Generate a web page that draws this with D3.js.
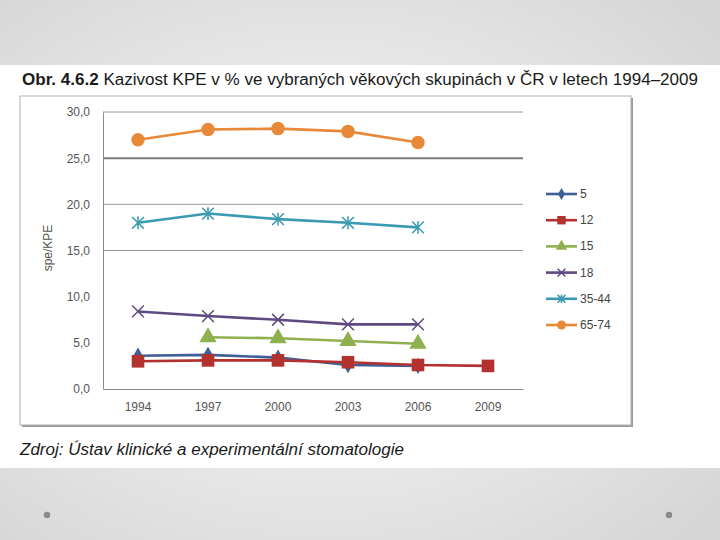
<!DOCTYPE html>
<html><head><meta charset="utf-8">
<script src="https://cdn.jsdelivr.net/npm/d3@7"></script>
<style>body{margin:0;background:#fff}svg{display:block}</style>
</head><body>
<svg id="c" width="720" height="540"></svg>
<script>
const years = ["1994","1997","2000","2003","2006","2009"];
const seriesNames = ["5","12","15","18","35-44","65-74"];
const s5    = [3.6, 3.7, 3.4, 2.6, 2.5, null];
const s12   = [3.0, 3.1, 3.1, 2.9, 2.6, 2.5];
const s15   = [null, 5.6, 5.5, 5.2, 4.9, null];
const s18   = [8.4, 7.9, 7.5, 7.0, 7.0, null];
const s3544 = [18.0, 19.0, 18.4, 18.0, 17.5, null];
const s6574 = [27.0, 28.1, 28.2, 27.9, 26.7, null];
const yTicks = [0,5,10,15,20,25,30];
const gridValues = [15,20,25,30];

const colors = ["#3f5f96","#b3312f","#8fb04e","#5e4a80","#3a9ab2","#e8893a"];
const markers = ["diamond","square","triangle","cross","star","circle"];
const allSeries = [s5,s12,s15,s18,s3544,s6574];
const FONT = "'Liberation Sans Narrow','Arial Narrow','Liberation Sans',Arial,sans-serif";

const svg = d3.select("#c");
const defs = svg.append("defs");
const g1 = defs.append("radialGradient").attr("id","bg").attr("cx","0.45").attr("cy","0.5").attr("r","0.7");
g1.append("stop").attr("offset","0").attr("stop-color","#fbfbfb");
g1.append("stop").attr("offset","1").attr("stop-color","#d6d6d6");

svg.append("rect").attr("x",0).attr("y",0).attr("width",720).attr("height",540).attr("fill","url(#bg)");
svg.append("rect").attr("x",0).attr("y",65).attr("width",720).attr("height",403).attr("fill","#fff");
[[47,515],[669,515]].forEach(p=>svg.append("circle").attr("cx",p[0]).attr("cy",p[1]).attr("r",3.2).attr("fill","#8a8a8a"));

// title
const t = svg.append("text").attr("x",22).attr("y",85)
  .attr("font-family",FONT).attr("font-size",16).attr("fill","#1a1a1a")
  .attr("textLength",676).attr("lengthAdjust","spacingAndGlyphs");
t.append("tspan").attr("font-weight","bold").text("Obr. 4.6.2 ");
t.append("tspan").text(" Kazivost KPE v % ve vybraných věkových skupinách v ČR v letech 1994–2009");

// chart box
svg.append("rect").attr("x",22).attr("y",98).attr("width",611).attr("height",329).attr("fill","#9a9a9a");
svg.append("rect").attr("x",20).attr("y",96).attr("width",611).attr("height",329).attr("fill","#fff").attr("stroke","#b0b0b0").attr("stroke-width",1);

// scales
const x = d3.scaleBand().domain(years).range([103,523]);
const y = d3.scaleLinear().domain([0,30]).range([389,112]);
const cx = d => x(d) + x.bandwidth()/2;

// grid
svg.append("g").selectAll("line").data(gridValues).join("line")
  .attr("x1",103).attr("x2",523).attr("y1",d=>y(d)).attr("y2",d=>y(d))
  .attr("stroke",d=>d===25?"#7a7a7a":"#9a9a9a").attr("stroke-width",d=>d===25?2:1);

// axes
const yAxis = d3.axisLeft(y).tickValues(yTicks).tickSize(0).tickPadding(13)
  .tickFormat(d=>d3.format(".1f")(d).replace(".",","));
const ya = svg.append("g").attr("transform","translate(103,0)").call(yAxis);
ya.select(".domain").attr("stroke","#8a8a8a");
ya.selectAll("text").attr("font-family",FONT).attr("font-size",12).attr("fill","#555");

const xAxis = d3.axisBottom(x).tickSize(0).tickPadding(13);
const xa = svg.append("g").attr("transform","translate(0,389)").call(xAxis);
xa.select(".domain").attr("stroke","#8a8a8a");
xa.selectAll("text").attr("font-family",FONT).attr("font-size",12).attr("fill","#555");

svg.append("text").attr("transform","translate(52,248) rotate(-90)").attr("text-anchor","middle")
  .attr("font-family",FONT).attr("font-size",12).attr("fill","#555").text("spe/KPE");

function drawMarker(g, type, px, py, col, s){
  if(type==="circle") g.append("circle").attr("cx",px).attr("cy",py).attr("r",s*0.75).attr("fill",col);
  else if(type==="square") g.append("rect").attr("x",px-s*0.7).attr("y",py-s*0.7).attr("width",s*1.4).attr("height",s*1.4).attr("fill",col);
  else if(type==="triangle") g.append("path").attr("d",d3.symbol(d3.symbolTriangle, s*s*1.6)()).attr("transform",`translate(${px},${py})`).attr("fill",col);
  else if(type==="diamond") g.append("path").attr("d",d3.symbol(d3.symbolDiamond, s*s*1.2)()).attr("transform",`translate(${px},${py})`).attr("fill",col);
  else if(type==="cross"){
    const r=s*0.65;
    g.append("path").attr("d",`M${px-r},${py-r}L${px+r},${py+r}M${px-r},${py+r}L${px+r},${py-r}`).attr("stroke",col).attr("stroke-width",1.5).attr("fill","none");
  } else if(type==="star"){
    const r=s*0.65;
    g.append("path").attr("d",`M${px-r},${py-r}L${px+r},${py+r}M${px-r},${py+r}L${px+r},${py-r}M${px},${py-r*1.1}L${px},${py+r*1.1}`).attr("stroke",col).attr("stroke-width",1.5).attr("fill","none");
  }
}

const line = d3.line().defined(d=>d.v!==null).x(d=>cx(d.yr)).y(d=>y(d.v));
allSeries.forEach((arr,i)=>{
  const data = years.map((yr,j)=>({yr, v:arr[j]}));
  const g = svg.append("g");
  g.append("path").datum(data).attr("d",line).attr("fill","none").attr("stroke",colors[i]).attr("stroke-width",2.6);
  data.filter(d=>d.v!==null).forEach(d=>drawMarker(g, markers[i], cx(d.yr), y(d.v), colors[i], i===0?8:9));
});

// legend
const legY = d3.scalePoint().domain(seriesNames).range([194,325]);
seriesNames.forEach((n,i)=>{
  const ly = legY(n);
  const g = svg.append("g");
  g.append("line").attr("x1",546).attr("x2",577).attr("y1",ly).attr("y2",ly).attr("stroke",colors[i]).attr("stroke-width",2.6);
  drawMarker(g, markers[i], 561.5, ly, colors[i], 6);
  g.append("text").attr("x",580).attr("y",ly+4).attr("font-family",FONT).attr("font-size",12).attr("fill","#444").text(n);
});

// source
svg.append("text").attr("x",20).attr("y",455).attr("font-family",FONT)
  .attr("font-style","italic").attr("font-size",16).attr("fill","#1a1a1a")
  .attr("textLength",384).attr("lengthAdjust","spacingAndGlyphs")
  .text("Zdroj: Ústav klinické a experimentální stomatologie");
</script>
</body></html>
